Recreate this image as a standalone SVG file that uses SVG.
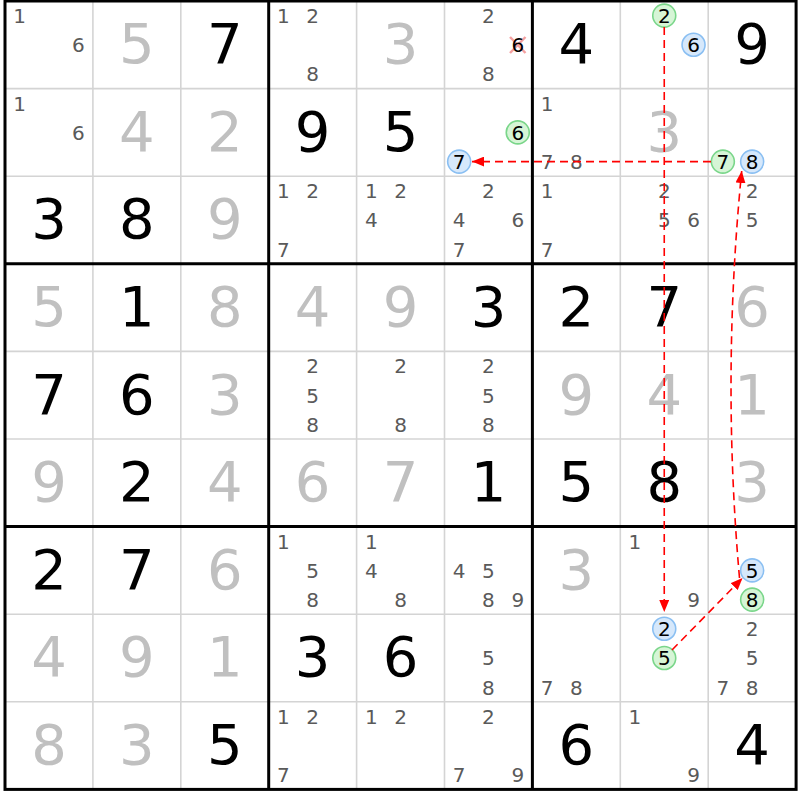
<svg xmlns="http://www.w3.org/2000/svg" width="800" height="800" viewBox="0 0 800 800">
<defs>
<style>
text{font-family:"DejaVu Sans","Verdana",sans-serif;text-anchor:middle}
.g{fill:#c0c0c0;font-size:56px}
.s{fill:#000;font-size:56px}
.c{fill:#5a5a5a;font-size:20px}
.k{fill:#000;font-size:20px}
.gc{fill:#d6f5d6;stroke:#7ad68a;stroke-width:1.6}
.bc{fill:#d6e8fb;stroke:#8abff2;stroke-width:1.6}
.thin{stroke:#d4d4d4;stroke-width:1.6}
.thick{stroke:#000;stroke-width:3}
</style>
<marker id="ah" viewBox="0 0 12 10" refX="12" refY="5" markerWidth="12" markerHeight="10" markerUnits="userSpaceOnUse" orient="auto">
<path d="M0,0 L12,5 L0,10 z" fill="#f00" stroke="none"/>
</marker>
</defs>
<rect width="800" height="800" fill="#fff"/>
<g id="grid">
<g class="thin">
<line x1="92.9" y1="1" x2="92.9" y2="789.4"/><line x1="180.8" y1="1" x2="180.8" y2="789.4"/>
<line x1="356.6" y1="1" x2="356.6" y2="789.4"/><line x1="444.5" y1="1" x2="444.5" y2="789.4"/>
<line x1="620.3" y1="1" x2="620.3" y2="789.4"/><line x1="708.2" y1="1" x2="708.2" y2="789.4"/>
<line x1="5" y1="88.6" x2="796.1" y2="88.6"/><line x1="5" y1="176.2" x2="796.1" y2="176.2"/>
<line x1="5" y1="351.4" x2="796.1" y2="351.4"/><line x1="5" y1="439" x2="796.1" y2="439"/>
<line x1="5" y1="614.2" x2="796.1" y2="614.2"/><line x1="5" y1="701.8" x2="796.1" y2="701.8"/>
</g>
<g class="thick">
<line x1="268.7" y1="1" x2="268.7" y2="789.4"/><line x1="532.4" y1="1" x2="532.4" y2="789.4"/>
<line x1="5" y1="263.8" x2="796.1" y2="263.8"/><line x1="5" y1="526.6" x2="796.1" y2="526.6"/>
<rect x="5" y="1" width="791.1" height="788.4" fill="none"/>
</g>
</g>
<g id="cells">
<g id="r1c1"><text class="c" x="19.65" y="22.9">1</text><text class="c" x="78.25" y="52.1">6</text></g>
<g id="r1c2"><text class="g" x="136.85" y="63.2">5</text></g>
<g id="r1c3"><text class="s" x="224.75" y="63.2">7</text></g>
<g id="r1c4"><text class="c" x="283.35" y="22.9">1</text><text class="c" x="312.65" y="22.9">2</text><text class="c" x="312.65" y="81.3">8</text></g>
<g id="r1c5"><text class="g" x="400.55" y="63.2">3</text></g>
<g id="r1c6"><text class="c" x="488.45" y="22.9">2</text><g stroke="#f4a0a0" stroke-width="2.5"><line x1="510" y1="37" x2="525.5" y2="53"/><line x1="525.5" y1="37" x2="510" y2="53"/></g><text class="k" x="517.75" y="52.1">6</text><text class="c" x="488.45" y="81.3">8</text></g>
<g id="r1c7"><text class="s" x="576.35" y="63.2">4</text></g>
<g id="r1c8"><circle class="gc" cx="664.25" cy="15.6" r="11.5"/><text class="k" x="664.25" y="22.9">2</text><circle class="bc" cx="693.55" cy="44.8" r="11.5"/><text class="k" x="693.55" y="52.1">6</text></g>
<g id="r1c9"><text class="s" x="752.15" y="63.2">9</text></g>

<g id="r2c1"><text class="c" x="19.65" y="110.5">1</text><text class="c" x="78.25" y="139.7">6</text></g>
<g id="r2c2"><text class="g" x="136.85" y="150.8">4</text></g>
<g id="r2c3"><text class="g" x="224.75" y="150.8">2</text></g>
<g id="r2c4"><text class="s" x="312.65" y="150.8">9</text></g>
<g id="r2c5"><text class="s" x="400.55" y="150.8">5</text></g>
<g id="r2c6"><circle class="gc" cx="517.75" cy="132.4" r="11.5"/><text class="k" x="517.75" y="139.7">6</text><circle class="bc" cx="459.15" cy="161.6" r="11.5"/><text class="k" x="459.15" y="168.9">7</text></g>
<g id="r2c7"><text class="c" x="547.05" y="110.5">1</text><text class="c" x="547.05" y="168.9">7</text><text class="c" x="576.35" y="168.9">8</text></g>
<g id="r2c8"><text class="g" x="664.25" y="150.8">3</text></g>
<g id="r2c9"><circle class="gc" cx="722.85" cy="161.6" r="11.5"/><text class="k" x="722.85" y="168.9">7</text><circle class="bc" cx="752.15" cy="161.6" r="11.5"/><text class="k" x="752.15" y="168.9">8</text></g>

<g id="r3c1"><text class="s" x="48.95" y="238.4">3</text></g>
<g id="r3c2"><text class="s" x="136.85" y="238.4">8</text></g>
<g id="r3c3"><text class="g" x="224.75" y="238.4">9</text></g>
<g id="r3c4"><text class="c" x="283.35" y="198.1">1</text><text class="c" x="312.65" y="198.1">2</text><text class="c" x="283.35" y="256.5">7</text></g>
<g id="r3c5"><text class="c" x="371.25" y="198.1">1</text><text class="c" x="400.55" y="198.1">2</text><text class="c" x="371.25" y="227.3">4</text></g>
<g id="r3c6"><text class="c" x="488.45" y="198.1">2</text><text class="c" x="459.15" y="227.3">4</text><text class="c" x="517.75" y="227.3">6</text><text class="c" x="459.15" y="256.5">7</text></g>
<g id="r3c7"><text class="c" x="547.05" y="198.1">1</text><text class="c" x="547.05" y="256.5">7</text></g>
<g id="r3c8"><text class="c" x="664.25" y="198.1">2</text><text class="c" x="664.25" y="227.3">5</text><text class="c" x="693.55" y="227.3">6</text></g>
<g id="r3c9"><text class="c" x="752.15" y="198.1">2</text><text class="c" x="752.15" y="227.3">5</text></g>

<g id="r4c1"><text class="g" x="48.95" y="326">5</text></g>
<g id="r4c2"><text class="s" x="136.85" y="326">1</text></g>
<g id="r4c3"><text class="g" x="224.75" y="326">8</text></g>
<g id="r4c4"><text class="g" x="312.65" y="326">4</text></g>
<g id="r4c5"><text class="g" x="400.55" y="326">9</text></g>
<g id="r4c6"><text class="s" x="488.45" y="326">3</text></g>
<g id="r4c7"><text class="s" x="576.35" y="326">2</text></g>
<g id="r4c8"><text class="s" x="664.25" y="326">7</text></g>
<g id="r4c9"><text class="g" x="752.15" y="326">6</text></g>

<g id="r5c1"><text class="s" x="48.95" y="413.6">7</text></g>
<g id="r5c2"><text class="s" x="136.85" y="413.6">6</text></g>
<g id="r5c3"><text class="g" x="224.75" y="413.6">3</text></g>
<g id="r5c4"><text class="c" x="312.65" y="373.3">2</text><text class="c" x="312.65" y="402.5">5</text><text class="c" x="312.65" y="431.7">8</text></g>
<g id="r5c5"><text class="c" x="400.55" y="373.3">2</text><text class="c" x="400.55" y="431.7">8</text></g>
<g id="r5c6"><text class="c" x="488.45" y="373.3">2</text><text class="c" x="488.45" y="402.5">5</text><text class="c" x="488.45" y="431.7">8</text></g>
<g id="r5c7"><text class="g" x="576.35" y="413.6">9</text></g>
<g id="r5c8"><text class="g" x="664.25" y="413.6">4</text></g>
<g id="r5c9"><text class="g" x="752.15" y="413.6">1</text></g>

<g id="r6c1"><text class="g" x="48.95" y="501.2">9</text></g>
<g id="r6c2"><text class="s" x="136.85" y="501.2">2</text></g>
<g id="r6c3"><text class="g" x="224.75" y="501.2">4</text></g>
<g id="r6c4"><text class="g" x="312.65" y="501.2">6</text></g>
<g id="r6c5"><text class="g" x="400.55" y="501.2">7</text></g>
<g id="r6c6"><text class="s" x="488.45" y="501.2">1</text></g>
<g id="r6c7"><text class="s" x="576.35" y="501.2">5</text></g>
<g id="r6c8"><text class="s" x="664.25" y="501.2">8</text></g>
<g id="r6c9"><text class="g" x="752.15" y="501.2">3</text></g>

<g id="r7c1"><text class="s" x="48.95" y="588.8">2</text></g>
<g id="r7c2"><text class="s" x="136.85" y="588.8">7</text></g>
<g id="r7c3"><text class="g" x="224.75" y="588.8">6</text></g>
<g id="r7c4"><text class="c" x="283.35" y="548.5">1</text><text class="c" x="312.65" y="577.7">5</text><text class="c" x="312.65" y="606.9">8</text></g>
<g id="r7c5"><text class="c" x="371.25" y="548.5">1</text><text class="c" x="371.25" y="577.7">4</text><text class="c" x="400.55" y="606.9">8</text></g>
<g id="r7c6"><text class="c" x="459.15" y="577.7">4</text><text class="c" x="488.45" y="577.7">5</text><text class="c" x="488.45" y="606.9">8</text><text class="c" x="517.75" y="606.9">9</text></g>
<g id="r7c7"><text class="g" x="576.35" y="588.8">3</text></g>
<g id="r7c8"><text class="c" x="634.95" y="548.5">1</text><text class="c" x="693.55" y="606.9">9</text></g>
<g id="r7c9"><circle class="bc" cx="752.15" cy="570.4" r="11.5"/><text class="k" x="752.15" y="577.7">5</text><circle class="gc" cx="752.15" cy="599.6" r="11.5"/><text class="k" x="752.15" y="606.9">8</text></g>

<g id="r8c1"><text class="g" x="48.95" y="676.4">4</text></g>
<g id="r8c2"><text class="g" x="136.85" y="676.4">9</text></g>
<g id="r8c3"><text class="g" x="224.75" y="676.4">1</text></g>
<g id="r8c4"><text class="s" x="312.65" y="676.4">3</text></g>
<g id="r8c5"><text class="s" x="400.55" y="676.4">6</text></g>
<g id="r8c6"><text class="c" x="488.45" y="665.3">5</text><text class="c" x="488.45" y="694.5">8</text></g>
<g id="r8c7"><text class="c" x="547.05" y="694.5">7</text><text class="c" x="576.35" y="694.5">8</text></g>
<g id="r8c8"><circle class="bc" cx="664.25" cy="628.8" r="11.5"/><text class="k" x="664.25" y="636.1">2</text><circle class="gc" cx="664.25" cy="658" r="11.5"/><text class="k" x="664.25" y="665.3">5</text></g>
<g id="r8c9"><text class="c" x="752.15" y="636.1">2</text><text class="c" x="752.15" y="665.3">5</text><text class="c" x="722.85" y="694.5">7</text><text class="c" x="752.15" y="694.5">8</text></g>

<g id="r9c1"><text class="g" x="48.95" y="764">8</text></g>
<g id="r9c2"><text class="g" x="136.85" y="764">3</text></g>
<g id="r9c3"><text class="s" x="224.75" y="764">5</text></g>
<g id="r9c4"><text class="c" x="283.35" y="723.7">1</text><text class="c" x="312.65" y="723.7">2</text><text class="c" x="283.35" y="782.1">7</text></g>
<g id="r9c5"><text class="c" x="371.25" y="723.7">1</text><text class="c" x="400.55" y="723.7">2</text></g>
<g id="r9c6"><text class="c" x="488.45" y="723.7">2</text><text class="c" x="459.15" y="782.1">7</text><text class="c" x="517.75" y="782.1">9</text></g>
<g id="r9c7"><text class="s" x="576.35" y="764">6</text></g>
<g id="r9c8"><text class="c" x="634.95" y="723.7">1</text><text class="c" x="693.55" y="782.1">9</text></g>
<g id="r9c9"><text class="s" x="752.15" y="764">4</text></g>
</g>
<g id="links" fill="none" stroke="#f00" stroke-width="1.6" stroke-dasharray="8 5" marker-end="url(#ah)">
<path d="M664.25,27 V612"/>
<path d="M711,161.6 H472"/>
<path d="M672,650 L742.5,578"/>
<path d="M739.5,578 Q721.5,375 741.7,171"/>
</g>
</svg>
